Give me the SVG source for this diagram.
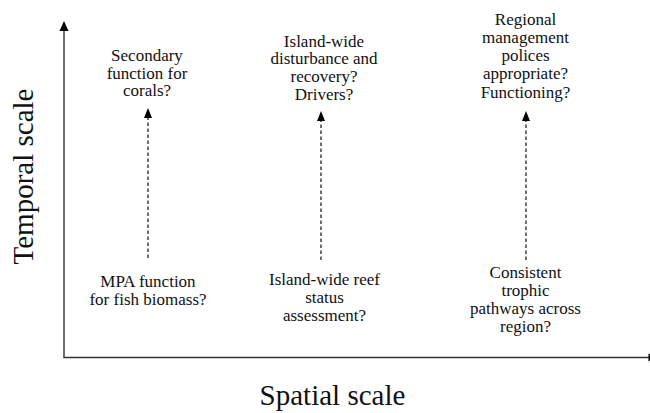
<svg xmlns="http://www.w3.org/2000/svg" width="650" height="413" viewBox="0 0 650 413">
  <style>
    .axis { stroke: #333; stroke-width: 1.4; fill: none; }
    .link { stroke: #222; stroke-width: 1.3; stroke-dasharray: 3.5 2.5; fill: none; }
    .head { fill: #000; }
    .q { font-family: "Liberation Serif", "Times New Roman", serif; font-size: 17px; text-anchor: middle; fill: #111; }
    .title { font-family: "Liberation Serif", "Times New Roman", serif; font-size: 29px; text-anchor: middle; fill: #111; }
  </style>
  <rect width="650" height="413" fill="#fff"/>

  <!-- axes -->
  <g id="axes">
    <line class="axis" x1="64" y1="357.5" x2="64" y2="28"/>
    <polygon class="head" points="64,21 59.5,31 68.5,31"/>
    <line class="axis" x1="63.3" y1="357.5" x2="649" y2="357.5"/>
    <polygon class="head" points="648.5,353.5 658,357.5 648.5,361.5"/>
  </g>

  <!-- axis titles -->
  <text class="title" transform="translate(33,176.5) rotate(-90)">Temporal scale</text>
  <text class="title" x="332.5" y="405">Spatial scale</text>

  <!-- dashed connectors -->
  <g id="connectors">
    <line class="link" x1="148" y1="258" x2="148" y2="116"/>
    <polygon class="head" points="148,108 144,118 152,118"/>
    <line class="link" x1="321" y1="260" x2="321" y2="119"/>
    <polygon class="head" points="321,111 317,121 325,121"/>
    <line class="link" x1="526" y1="260" x2="526" y2="119"/>
    <polygon class="head" points="526,111 522,121 530,121"/>
  </g>

  <!-- upper nodes -->
  <g id="node-secondary-function">
    <text class="q" x="147" y="61">Secondary</text>
    <text class="q" x="147" y="78.5">function for</text>
    <text class="q" x="147" y="96">corals?</text>
  </g>
  <g id="node-island-disturbance">
    <text class="q" x="324" y="46.5">Island-wide</text>
    <text class="q" x="324" y="64">disturbance and</text>
    <text class="q" x="324" y="81.5">recovery?</text>
    <text class="q" x="324" y="99.5">Drivers?</text>
  </g>
  <g id="node-regional-management">
    <text class="q" x="525.5" y="25">Regional</text>
    <text class="q" x="525.5" y="43">management</text>
    <text class="q" x="525.5" y="61">polices</text>
    <text class="q" x="525.5" y="79">appropriate?</text>
    <text class="q" x="525.5" y="97.5">Functioning?</text>
  </g>

  <!-- lower nodes -->
  <g id="node-mpa-function">
    <text class="q" x="148" y="286.5">MPA function</text>
    <text class="q" x="148" y="304.5">for fish biomass?</text>
  </g>
  <g id="node-reef-status">
    <text class="q" x="324.5" y="285">Island-wide reef</text>
    <text class="q" x="324.5" y="303">status</text>
    <text class="q" x="324.5" y="321">assessment?</text>
  </g>
  <g id="node-trophic-pathways">
    <text class="q" x="525.5" y="277.5">Consistent</text>
    <text class="q" x="525.5" y="295.5">trophic</text>
    <text class="q" x="525.5" y="314">pathways across</text>
    <text class="q" x="525.5" y="332">region?</text>
  </g>
</svg>
